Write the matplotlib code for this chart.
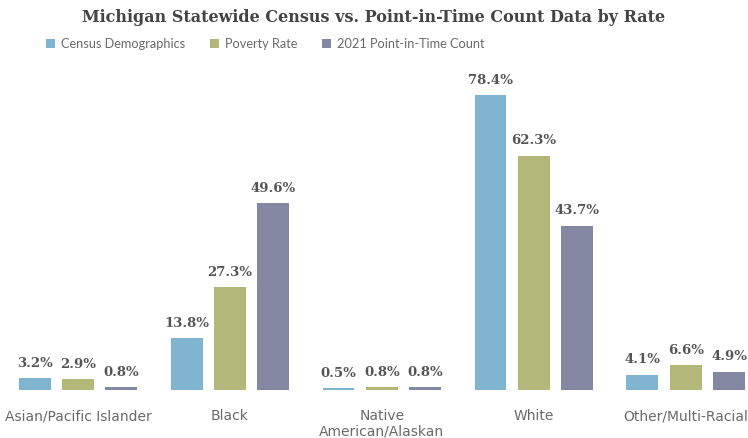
import numpy as np
import matplotlib.pyplot as plt

categories = ["Asian/Pacific Islander", "Black", "Native\nAmerican/Alaskan", "White", "Other/Multi-Racial"]
series_names = ["Census Demographics", "Poverty Rate", "2021 Point-in-Time Count"]
census = [3.2, 13.8, 0.5, 78.4, 4.1]
poverty = [2.9, 27.3, 0.8, 62.3, 6.6]
pit = [0.8, 49.6, 0.8, 43.7, 4.9]
colors = ["#7fb5d0", "#b3b87a", "#8387a2"]

fig = plt.figure(figsize=(7.48, 4.38), dpi=100)
ax = fig.add_axes([0, 0.1096, 1, 0.754])

x = np.arange(len(categories))
width = 0.21
offsets = [-0.285, 0, 0.285]
for vals, off, c, name in zip([census, poverty, pit], offsets, colors, series_names):
    bars = ax.bar(x + off, vals, width, color=c, label=name)
    for b, v in zip(bars, vals):
        ax.annotate(f"{v}%", (b.get_x() + b.get_width() / 2, v), xytext=(0, 6),
                    textcoords="offset points", ha="center", va="bottom",
                    fontsize=9.5, color="#555555", family="DejaVu Serif", fontweight="bold")

ax.set_xlim(-0.513, 4.41)
ax.set_ylim(0, 87.8)
ax.set_xticks(x)
ax.set_xticklabels(categories, fontsize=10, color="#6a6a6a", linespacing=1.1)
ax.tick_params(axis="x", length=0, pad=14)
ax.set_yticks([])
for s in ax.spines.values():
    s.set_visible(False)

fig.text(0.5, 0.96, "Michigan Statewide Census vs. Point-in-Time Count Data by Rate",
         ha="center", va="center", fontsize=11.5, fontweight="bold",
         family="DejaVu Serif", color="#444444")
fig.legend(loc="center left", bbox_to_anchor=(0.046, 0.9), ncol=3, frameon=False,
           prop={"family": "Lato", "size": 9.2}, handlelength=0.7, handleheight=0.7,
           handletextpad=0.5, columnspacing=1.9, labelcolor="#6a6a6a")

fig.savefig("out.png", dpi=100)
